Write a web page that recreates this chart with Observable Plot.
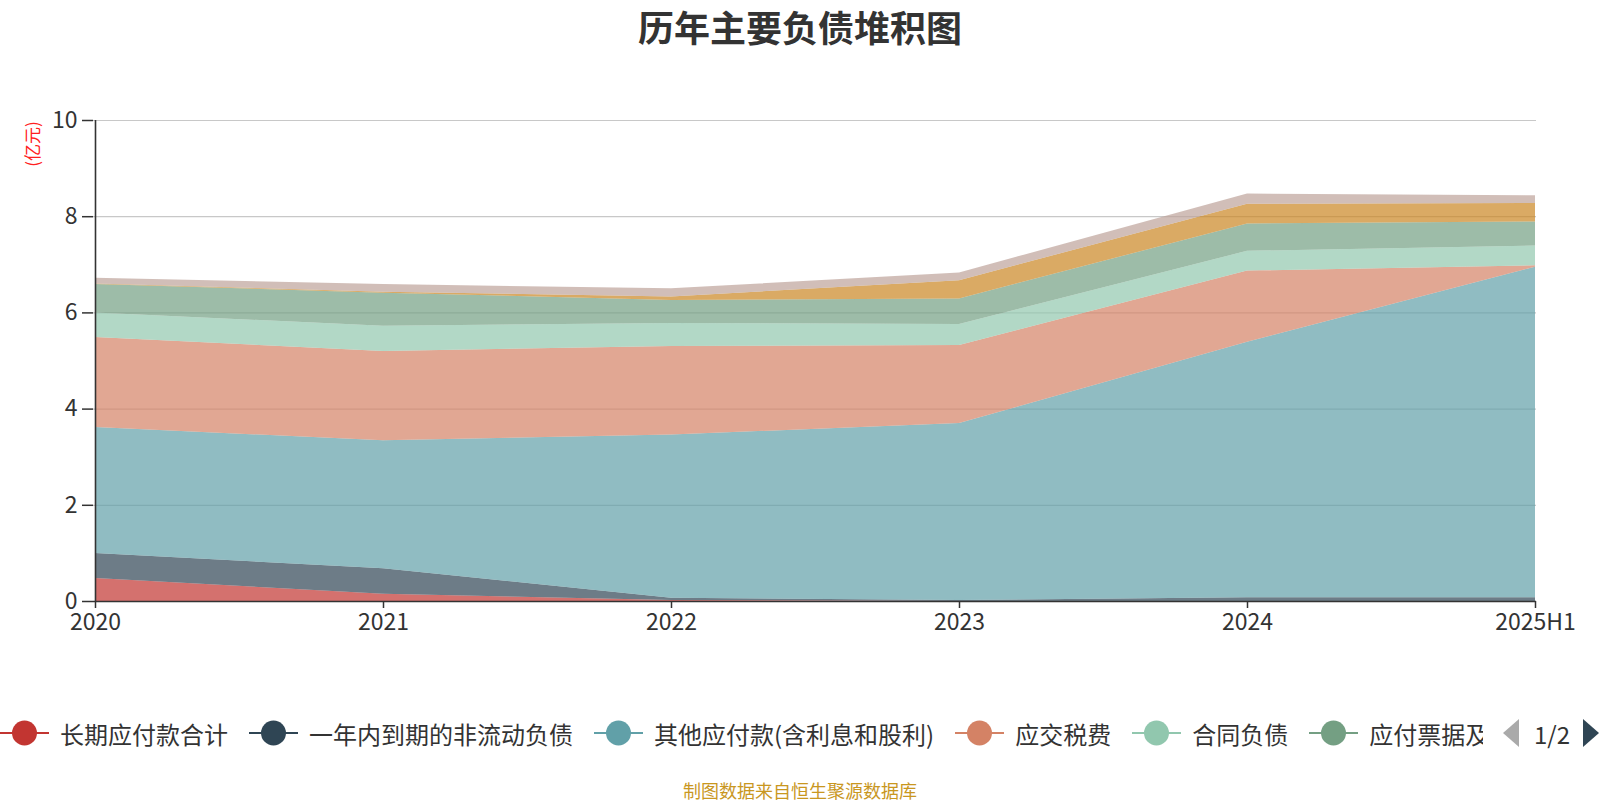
<!DOCTYPE html>
<html>
<head>
<meta charset="utf-8">
<script src="https://cdn.jsdelivr.net/npm/d3@7"></script>
<script src="https://cdn.jsdelivr.net/npm/@observablehq/plot@0.6"></script>
<style>
  html, body { margin: 0; padding: 0; background: #fff; }
  body { width: 1600px; height: 800px; position: relative; overflow: hidden;
         font-family: "Noto Sans CJK SC", "Noto Sans", sans-serif; color: #333; }
  #title { height: 60px; text-align: center; font-size: 36px; font-weight: bold; color: #333;
           line-height: 52px; width: 1600px; }
  #chart { position: absolute; left: 0; top: 60px; }
  #unit { position: absolute; left: 31px; top: 144px; transform: translate(-50%, -50%) rotate(-90deg);
          color: #ff2020; font-size: 17px; white-space: nowrap; }
  #legend { position: absolute; left: 0; top: 713px; width: 1483px; height: 40px; overflow: hidden;
            display: flex; align-items: center; white-space: nowrap; }
  .item { display: flex; align-items: center; margin-right: 21px; flex: none; }
  .item svg { margin-right: 11px; flex: none; }
  .item span { font-size: 24px; color: #333; }
  #pager { position: absolute; left: 1502px; top: 713px; height: 40px; display: flex; align-items: center; }
  #pager span { font-size: 24px; color: #333; margin: 0 12px 0 14px; }
  #caption { position: absolute; top: 777px; width: 1600px; text-align: center; font-size: 18px; color: #c9971f; }
</style>
</head>
<body>
<div id="title">历年主要负债堆积图</div>
<div id="chart"></div>
<div id="unit">(亿元)</div>
<div id="legend"></div>
<div id="pager">
  <svg width="18" height="30"><polygon points="17,1 17,29 1,15" fill="#aaa"/></svg>
  <span>1/2</span>
  <svg width="18" height="30"><polygon points="1,1 1,29 17,15" fill="#2f4554"/></svg>
</div>
<div id="caption">制图数据来自恒生聚源数据库</div>
<script>
const years = ["2020", "2021", "2022", "2023", "2024", "2025H1"];
const seriesNames = ["长期应付款合计", "一年内到期的非流动负债", "其他应付款(含利息和股利)", "应交税费", "合同负债", "应付票据及应付账款", "应付职工薪酬", "其他流动负债"];
const palette = ["#c23531", "#2f4554", "#61a0a8", "#d48265", "#91c7ae", "#749f83", "#ca8622", "#bda29a"];
const yTicks = [0, 2, 4, 6, 8, 10];

const longTermPayables   = [0.48, 0.15, 0.02, 0.00, 0.00, 0.00];
const currentNonCurrent  = [0.52, 0.53, 0.05, 0.02, 0.08, 0.08];
const otherPayables      = [2.62, 2.66, 3.39, 3.68, 5.31, 6.87];
const taxesPayable       = [1.87, 1.86, 1.84, 1.62, 1.48, 0.03];
const contractLiab       = [0.51, 0.52, 0.48, 0.44, 0.41, 0.41];
const notesAccounts      = [0.59, 0.69, 0.48, 0.53, 0.57, 0.50];
const payroll            = [0.01, 0.02, 0.07, 0.38, 0.41, 0.385];
const otherCurrent       = [0.12, 0.16, 0.17, 0.16, 0.21, 0.16];
const seriesValues = [longTermPayables, currentNonCurrent, otherPayables, taxesPayable, contractLiab, notesAccounts, payroll, otherCurrent];

const data = [];
seriesNames.forEach((name, i) => years.forEach((yr, j) => data.push({year: yr, series: name, value: seriesValues[i][j]})));

const chart = Plot.plot({
  width: 1600,
  height: 600,
  marginLeft: 93,
  marginRight: 64,
  marginTop: 60,
  marginBottom: 59,
  style: {fontFamily: '"Noto Sans CJK SC", "Noto Sans", sans-serif', fontSize: "23px", color: "#333", background: "transparent"},
  x: {type: "point", domain: years, padding: 0, label: null},
  y: {domain: [0, 10], label: null},
  color: {domain: seriesNames, range: palette},
  marks: [
    Plot.gridY(yTicks.slice(1), {stroke: "#c8c8c8", strokeOpacity: 1, strokeWidth: 1.2}),
    Plot.areaY(data, {x: "year", y: "value", fill: "series", fillOpacity: 0.7, order: seriesNames}),
    Plot.axisY(yTicks, {tickSize: 11, tickPadding: 5, fontSize: 23, stroke: "#333", strokeWidth: 1.5, label: null}),
    Plot.axisX(years, {tickSize: 7, tickPadding: 5, fontSize: 23, stroke: "#333", strokeWidth: 1.5, label: null}),
    Plot.ruleY([0], {stroke: "#333", strokeWidth: 1.6}),
    Plot.ruleX([years[0]], {stroke: "#333", strokeWidth: 1.6})
  ]
});
document.getElementById("chart").appendChild(chart);

const legend = document.getElementById("legend");
seriesNames.slice(0, 6).forEach((name, i) => {
  const item = document.createElement("div");
  item.className = "item";
  item.innerHTML = `<svg width="49" height="28"><line x1="0" x2="49" y1="14" y2="14" stroke="${palette[i]}" stroke-width="2"/><circle cx="24.5" cy="14" r="12.5" fill="${palette[i]}"/></svg><span>${name}</span>`;
  legend.appendChild(item);
});
</script>
</body>
</html>
